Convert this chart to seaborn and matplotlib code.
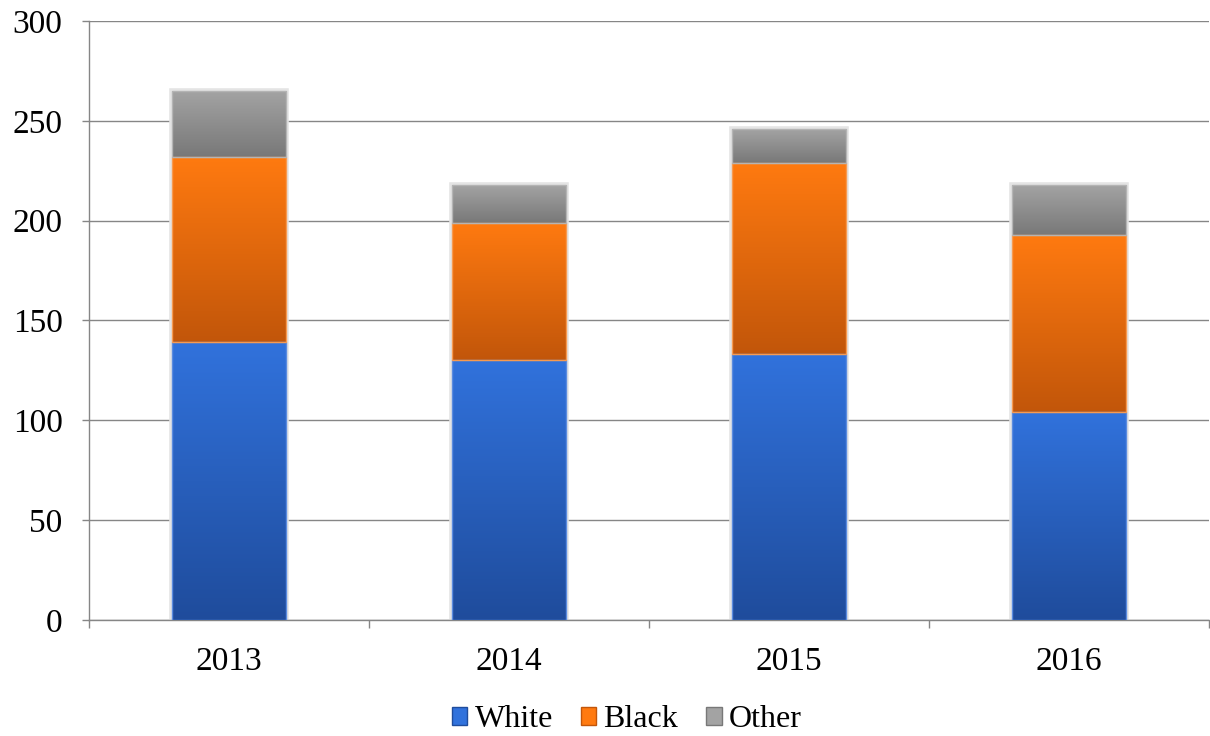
import numpy as np
import pandas as pd
import matplotlib
matplotlib.use("Agg")
import matplotlib.pyplot as plt
import seaborn as sns
from matplotlib.colors import LinearSegmentedColormap
from matplotlib.patches import Rectangle

# data
years = ["2013", "2014", "2015", "2016"]
white = [139, 130, 133, 104]
black = [93, 69, 96, 89]
other = [33, 19, 17, 25]
series = ["White", "Black", "Other"]

# (top colour, bottom colour, edge colour) for each series
shades = {
    "White": ("#3172dc", "#1f4c9c", "#5a8be0"),
    "Black": ("#ff7a10", "#c2560a", "#f79a50"),
    "Other": ("#a3a3a3", "#787878", "#b4b4b4"),
}


def main():
    sns.set_theme(style="white")
    plt.rcParams["font.family"] = ["Liberation Serif", "DejaVu Serif"]

    df = pd.DataFrame({"year": years, "White": white, "Black": black, "Other": other})
    df["cum_white"] = df["White"]
    df["cum_black"] = df["White"] + df["Black"]
    df["cum_other"] = df["cum_black"] + df["Other"]

    fig = plt.figure(figsize=(12.1, 7.36), dpi=100)
    ax = fig.add_axes([0.0736, 0.1576, 0.9256, 0.8139])

    # stacked bars: draw cumulative totals from tallest down
    layers = [("Other", "cum_other"), ("Black", "cum_black"), ("White", "cum_white")]
    for name, col in layers:
        sns.barplot(data=df, x="year", y=col, color=shades[name][1], width=0.41,
                    edgecolor="#e4e4e4" if name == "Other" else "none",
                    linewidth=4 if name == "Other" else 0,
                    saturation=1, ax=ax, zorder=2)

    # vertical gradient on each segment
    n = len(years)
    grad = np.linspace(0, 1, 256).reshape(-1, 1)
    bottoms = {"White": [0] * n, "Black": list(df["cum_white"]), "Other": list(df["cum_black"])}
    tops = {"White": list(df["cum_white"]), "Black": list(df["cum_black"]), "Other": list(df["cum_other"])}
    patches = ax.patches[:n]  # tallest layer gives the x positions
    for name in series:
        top_c, bot_c, edge_c = shades[name]
        cmap = LinearSegmentedColormap.from_list(name, [bot_c, top_c])
        for j, p in enumerate(patches):
            x0 = p.get_x()
            x1 = x0 + p.get_width()
            y0, y1 = bottoms[name][j], tops[name][j]
            ax.imshow(grad, cmap=cmap, extent=(x0, x1, y0, y1), origin="lower",
                      aspect="auto", zorder=3, interpolation="bilinear")
            ax.add_patch(Rectangle((x0, y0), x1 - x0, y1 - y0, facecolor="none",
                                   edgecolor=edge_c, linewidth=1.0, zorder=4))

    ax.set_xlim(-0.5, 3.5)
    ax.set_ylim(0, 300)
    ax.set_yticks(range(0, 301, 50))
    ax.set_xlabel("")
    ax.set_ylabel("")

    ax.yaxis.grid(True, color="#868686", linewidth=1)
    ax.set_axisbelow(True)
    for s in ["top", "right"]:
        ax.spines[s].set_visible(False)
    for s in ["left", "bottom"]:
        ax.spines[s].set_color("#868686")
        ax.spines[s].set_linewidth(1)

    ax.set_xticks(np.arange(-0.5, 3.6, 1), minor=True)
    ax.tick_params(axis="x", which="major", length=0, pad=19, labelsize=24, colors="black")
    ax.tick_params(axis="x", which="minor", bottom=True, length=6, width=1, color="#868686")
    ax.tick_params(axis="y", which="major", left=True, length=5, width=1, color="#868686",
                   pad=14, labelsize=24, labelcolor="black")

    handles = [Rectangle((0, 0), 1, 1, facecolor=shades[s][0], edgecolor=shades[s][1]) for s in series]
    fig.legend(handles, series, loc="center", bbox_to_anchor=(0.518, 0.022), ncol=3,
               frameon=False, fontsize=23, handlelength=0.48, handleheight=0.48,
               handletextpad=0.22, columnspacing=0.88, labelcolor="black")

    fig.savefig("out.png", dpi=100)
    plt.close(fig)


if __name__ == "__main__":
    main()
